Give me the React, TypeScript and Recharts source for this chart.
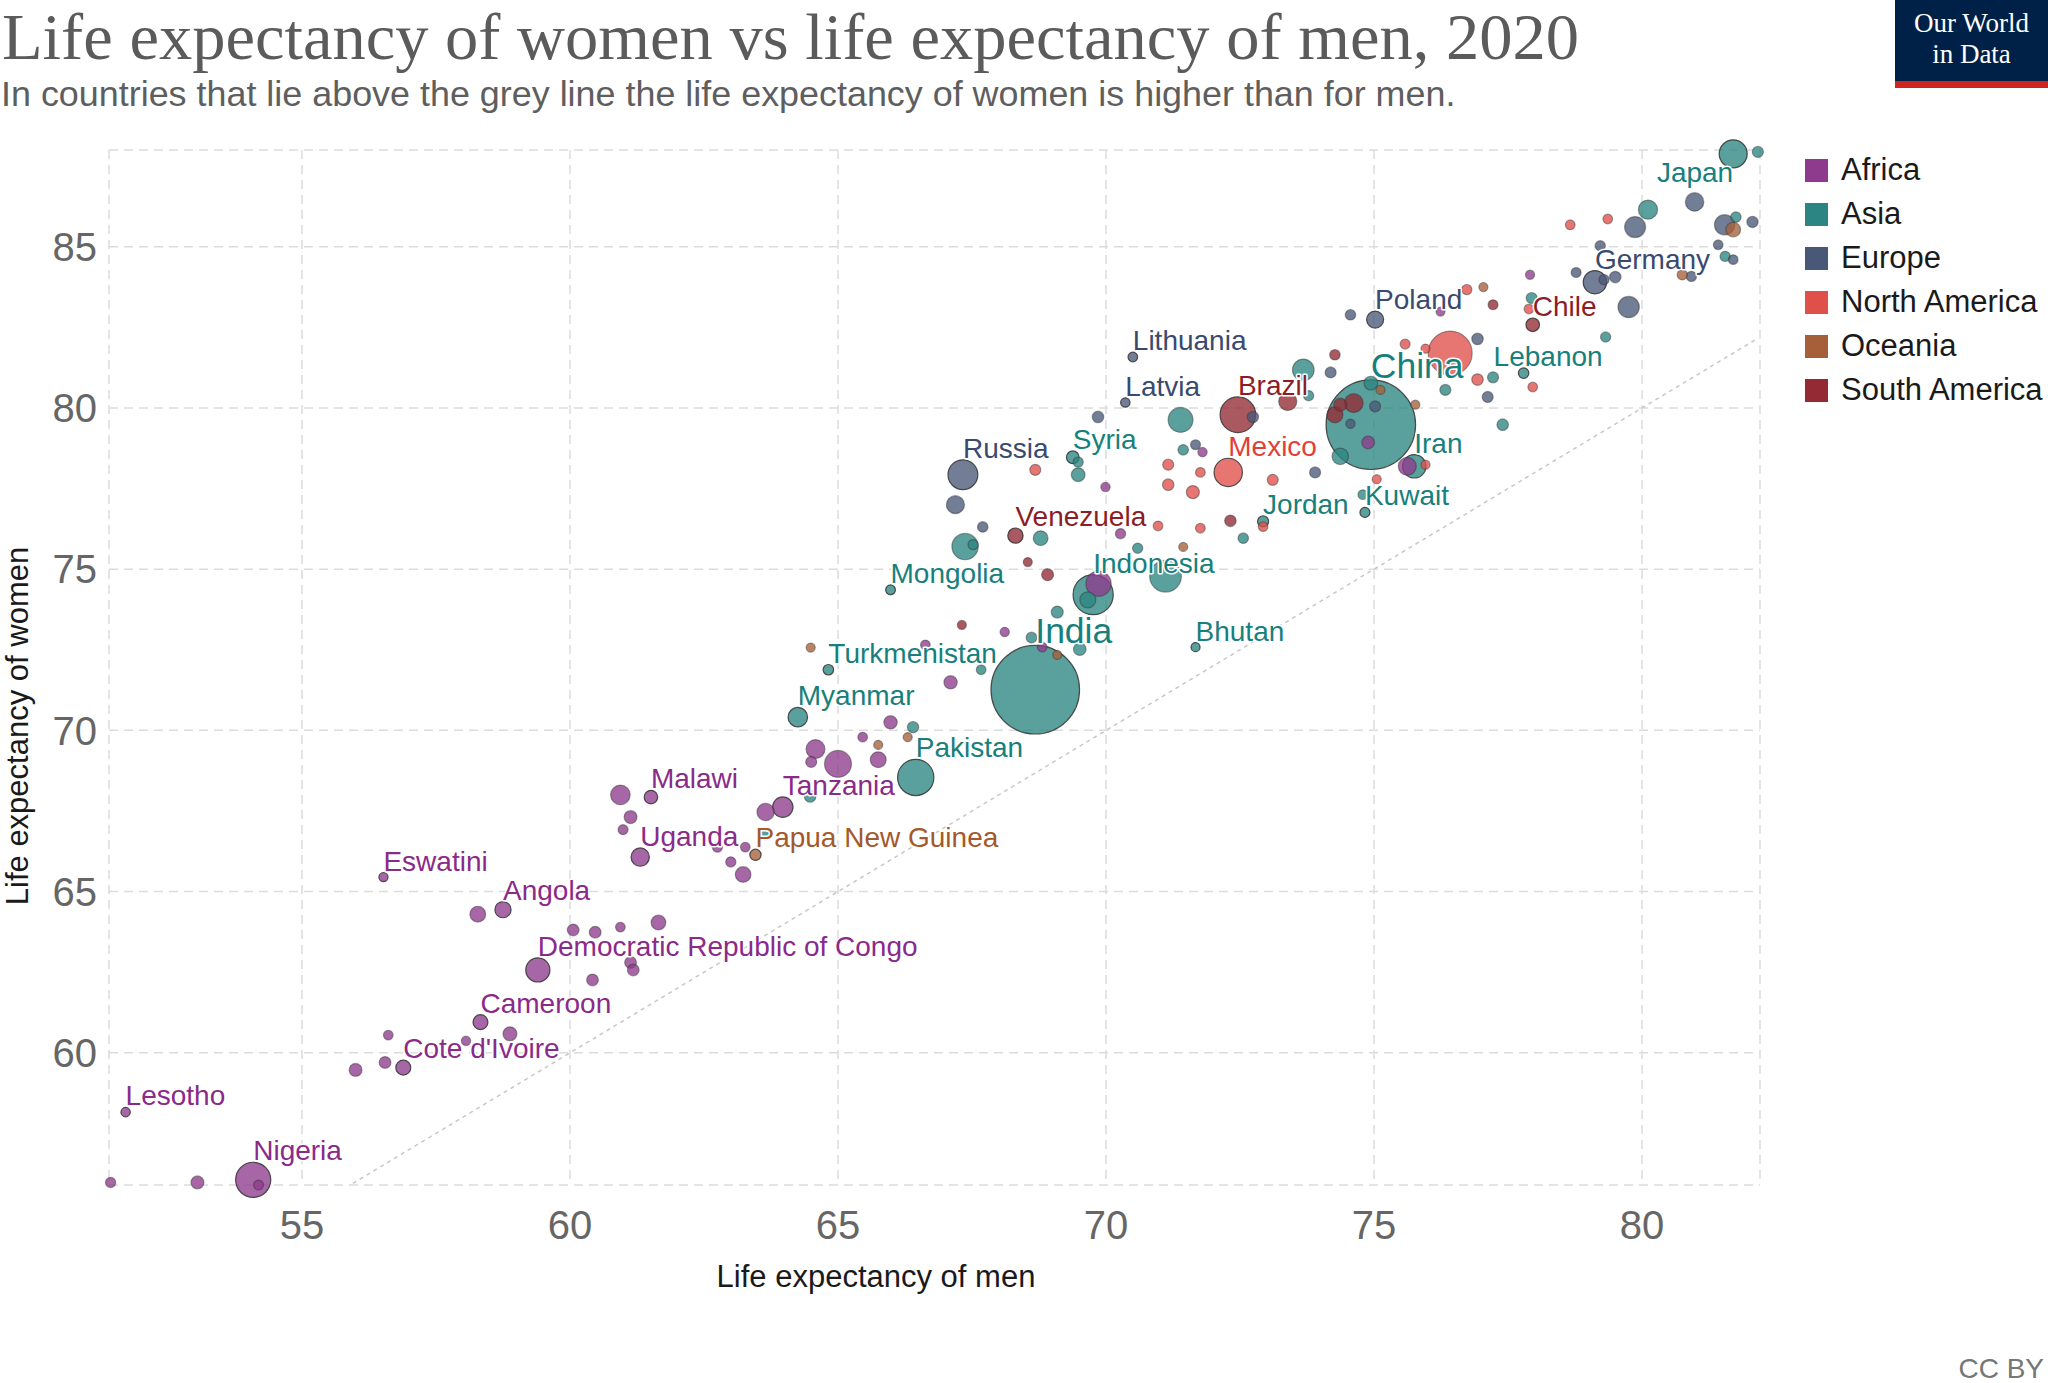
import React from "react"
import { ScatterChart, Scatter, XAxis, YAxis, ZAxis, CartesianGrid, ReferenceLine } from "recharts"

// country, life expectancy men, life expectancy women, population (millions)
type Row = [string, number, number, number]

const africa: Row[] = [
  ["Central African Republic", 51.43, 55.98, 5],
  ["Chad", 53.05, 55.98, 16],
  ["Nigeria", 54.09, 56.06, 206],
  ["", 54.19, 55.9, 4],
  ["Lesotho", 51.71, 58.16, 2],
  ["", 56.0, 59.47, 16],
  ["", 56.55, 59.7, 11],
  ["Cote d'Ivoire", 56.89, 59.54, 26],
  ["", 56.61, 60.55, 3],
  ["", 58.06, 60.37, 2],
  ["Cameroon", 58.33, 60.95, 26],
  ["", 58.88, 60.59, 21],
  ["Eswatini", 56.52, 65.45, 1.2],
  ["Mozambique", 58.28, 64.3, 31],
  ["Angola", 58.75, 64.44, 33],
  ["Democratic Republic of Congo", 59.4, 62.57, 90],
  ["", 60.06, 63.81, 11],
  ["", 60.47, 63.74, 11],
  ["", 60.94, 63.9, 3],
  ["", 61.65, 64.04, 25],
  ["", 60.42, 62.26, 11],
  ["", 61.13, 62.8, 11],
  ["", 61.18, 62.57, 11],
  ["", 60.94, 68.0, 55],
  ["Malawi", 61.51, 67.93, 19],
  ["", 61.13, 67.31, 16],
  ["", 60.99, 66.92, 4],
  ["Uganda", 61.31, 66.07, 46],
  ["", 62.75, 66.38, 5],
  ["", 63.27, 66.38, 3],
  ["", 63.0, 65.92, 5],
  ["", 63.23, 65.53, 30],
  ["Tanzania", 63.97, 67.62, 60],
  ["", 63.65, 67.47, 40],
  ["", 64.58, 69.42, 50],
  ["", 64.5, 69.02, 8],
  ["Ethiopia", 65.0, 68.96, 115],
  ["", 65.75, 69.09, 31],
  ["", 65.98, 70.25, 18],
  ["", 65.46, 69.79, 3],
  ["", 67.1, 71.49, 18],
  ["", 66.63, 72.65, 3],
  ["", 68.11, 73.05, 2],
  ["", 68.81, 72.58, 3],
  ["Egypt", 69.86, 74.55, 100],
  ["", 70.27, 76.1, 5],
  ["", 69.99, 77.55, 2],
  ["", 71.8, 78.63, 2],
  ["", 74.89, 78.93, 15],
  ["Algeria", 75.62, 78.19, 44],
  ["", 76.24, 82.99, 1],
  ["", 77.91, 84.13, 1.3],
]

const asia: Row[] = [
  ["Mongolia", 65.98, 74.36, 3.3],
  ["", 69.09, 73.67, 12],
  ["", 68.61, 72.88, 7],
  ["", 69.51, 72.52, 15],
  ["Turkmenistan", 64.82, 71.88, 6],
  ["", 67.67, 71.88, 3],
  ["India", 68.68, 71.26, 1380],
  ["Myanmar", 64.25, 70.41, 54],
  ["", 66.4, 70.1, 9],
  ["Pakistan", 66.45, 68.54, 220],
  ["", 64.48, 67.95, 10],
  ["", 63.65, 66.76, 3],
  ["Philippines", 67.37, 75.7, 110],
  ["", 67.52, 75.76, 5],
  ["Syria", 69.38, 78.47, 15],
  ["", 69.48, 78.32, 5],
  ["", 69.48, 77.93, 20],
  ["Vietnam", 71.39, 79.63, 97],
  ["", 71.44, 78.7, 6],
  ["", 68.78, 75.96, 25],
  ["", 72.56, 75.96, 6],
  ["Jordan", 72.93, 76.48, 8],
  ["", 70.59, 75.65, 5],
  ["Bangladesh", 71.11, 74.78, 165],
  ["Indonesia", 69.76, 74.21, 273],
  ["", 69.66, 74.05, 32],
  ["Bhutan", 71.67, 72.58, 0.8],
  ["Thailand", 73.68, 81.18, 70],
  ["", 73.78, 80.38, 5],
  ["China", 74.94, 79.48, 1411],
  ["", 74.94, 80.77, 20],
  ["", 74.37, 78.5, 35],
  ["Iran", 75.75, 78.19, 84],
  ["Kuwait", 74.83, 76.76, 4],
  ["", 74.79, 77.31, 3],
  ["", 77.22, 80.95, 8],
  ["Lebanon", 77.79, 81.08, 6],
  ["", 76.33, 80.56, 8],
  ["", 77.4, 79.48, 10],
  ["", 77.94, 83.41, 8],
  ["", 79.32, 82.2, 5],
  ["South Korea", 80.11, 86.15, 52],
  ["Japan", 81.7, 87.88, 126],
  ["Hong Kong", 82.16, 87.94, 8],
  ["Singapore", 81.75, 85.92, 6],
  ["", 81.55, 84.7, 5],
]

const europe: Row[] = [
  ["Russia", 67.33, 77.93, 144],
  ["Ukraine", 67.19, 77.0, 44],
  ["", 67.7, 76.31, 6],
  ["Latvia", 70.36, 80.17, 1.9],
  ["", 69.85, 79.72, 10],
  ["", 72.74, 79.72, 9],
  ["", 71.67, 78.86, 4],
  ["Lithuania", 70.5, 81.58, 2.8],
  ["", 74.19, 81.1, 8],
  ["", 74.56, 82.89, 6],
  ["Poland", 75.02, 82.74, 38],
  ["", 73.9, 78.0, 8],
  ["", 75.02, 80.05, 8],
  ["", 74.56, 79.51, 2],
  ["", 76.93, 82.14, 10],
  ["", 77.12, 80.34, 8],
  ["", 78.77, 84.2, 4],
  ["Germany", 79.12, 83.9, 83],
  ["", 79.29, 83.98, 5],
  ["", 79.5, 84.06, 10],
  ["United Kingdom", 79.75, 83.13, 67],
  ["Spain", 80.98, 86.39, 47],
  ["France", 79.87, 85.61, 65],
  ["Italy", 81.54, 85.68, 60],
  ["Switzerland", 82.06, 85.77, 9],
  ["", 81.42, 85.06, 3],
  ["", 79.22, 85.03, 5],
  ["", 81.7, 84.6, 3],
  ["", 80.92, 84.08, 5],
]

const northAmerica: Row[] = [
  ["", 68.68, 78.08, 8],
  ["", 71.16, 78.24, 8],
  ["", 71.76, 78.0, 3],
  ["Mexico", 72.28, 78.0, 129],
  ["", 71.16, 77.62, 10],
  ["Guatemala", 71.62, 77.39, 17],
  ["", 70.97, 76.34, 3],
  ["", 71.76, 76.27, 3],
  ["", 72.93, 76.32, 3],
  ["", 73.11, 77.77, 8],
  ["", 75.05, 77.79, 1],
  ["", 75.96, 78.24, 1],
  ["United States", 76.42, 81.7, 331],
  ["", 75.58, 81.98, 4],
  ["", 75.96, 81.84, 1],
  ["", 76.73, 83.67, 5],
  ["", 76.93, 80.88, 10],
  ["", 77.96, 80.65, 3],
  ["", 77.89, 83.07, 3],
  ["", 79.36, 85.86, 3],
  ["", 78.66, 85.68, 3],
]

const oceania: Row[] = [
  ["", 64.49, 72.57, 1],
  ["", 69.09, 72.34, 1],
  ["", 65.75, 69.55, 1],
  ["", 66.3, 69.79, 1],
  ["Papua New Guinea", 63.46, 66.14, 9],
  ["", 71.44, 75.69, 1],
  ["", 75.77, 80.1, 1],
  ["", 75.12, 80.56, 1],
  ["", 77.04, 83.75, 1],
  ["Australia", 81.7, 85.53, 25],
  ["New Zealand", 80.75, 84.13, 5],
]

const southAmerica: Row[] = [
  ["Guyana", 67.31, 73.27, 1],
  ["Venezuela", 68.31, 76.04, 28],
  ["", 72.32, 76.5, 10],
  ["", 68.54, 75.22, 1],
  ["Bolivia", 68.91, 74.83, 12],
  ["Brazil", 72.46, 79.79, 212],
  ["Argentina", 73.39, 80.2, 45],
  ["", 74.27, 81.65, 6],
  ["Colombia", 74.62, 80.15, 50],
  ["Ecuador", 74.37, 80.1, 17],
  ["Peru", 74.27, 79.79, 33],
  ["", 77.22, 83.2, 4],
  ["Chile", 77.96, 82.58, 19],
]

const continents = ["Africa", "Asia", "Europe", "North America", "Oceania", "South America"]
const xTicks = [55, 60, 65, 70, 75, 80]
const yTicks = [60, 65, 70, 75, 80, 85]

const labeled = [
  "Japan", "Germany", "Poland", "Chile", "Lithuania", "Lebanon", "China", "Latvia", "Brazil",
  "Russia", "Syria", "Mexico", "Iran", "Jordan", "Kuwait", "Venezuela", "Indonesia", "Mongolia",
  "India", "Bhutan", "Turkmenistan", "Myanmar", "Pakistan", "Malawi", "Tanzania", "Uganda",
  "Papua New Guinea", "Eswatini", "Angola", "Democratic Republic of Congo", "Cameroon",
  "Cote d'Ivoire", "Lesotho", "Nigeria",
]
const bigLabels = ["China", "India"]

const COLORS: Record<string, string> = {
  Africa: "#8e3b8d",
  Asia: "#2c8582",
  Europe: "#4a5878",
  "North America": "#e0504b",
  Oceania: "#a5603a",
  "South America": "#932a34",
}
const LABEL_COLORS: Record<string, string> = {
  Africa: "#8a2a89",
  Asia: "#17807c",
  Europe: "#3a4a6e",
  "North America": "#e23f3a",
  Oceania: "#a3592b",
  "South America": "#8c1c25",
}

const SANS = "'Liberation Sans', Arial, sans-serif"
const SERIF = "'Liberation Serif', 'Times New Roman', serif"

const points = [africa, asia, europe, northAmerica, oceania, southAmerica]
  .flatMap((rows, i) =>
    rows.map(([name, men, women, pop]) => ({ name, men, women, pop, continent: continents[i] }))
  )
  .sort((a, b) => b.pop - a.pop)

const labelPoints = points.filter((p) => labeled.includes(p.name))

const radius = (props: any) => {
  const area = props.size ?? 60 + props.payload.pop * 4.42
  return Math.sqrt(area / Math.PI)
}

const Bubble = (props: any) => {
  const { cx, cy, payload } = props
  if (cx == null || cy == null) return <g />
  const isLabeled = labeled.includes(payload.name)
  return (
    <circle
      cx={cx}
      cy={cy}
      r={radius(props)}
      fill={COLORS[payload.continent]}
      fillOpacity={0.78}
      stroke="#333"
      strokeOpacity={isLabeled ? 0.85 : 0.45}
      strokeWidth={1.2}
    />
  )
}

const PointLabel = (props: any) => {
  const { cx, cy, payload } = props
  if (cx == null || cy == null) return <g />
  const r = radius(props)
  const big = bigLabels.includes(payload.name)
  let x = cx
  let y = cy - r - 2
  let anchor = "start"
  // a couple of labels are moved to avoid collisions, as in the original
  if (payload.name === "Japan") {
    anchor = "end"
    y = cy + r + 14
  }
  if (payload.name === "Lebanon") x = cx - 30
  return (
    <text
      x={x}
      y={y}
      textAnchor={anchor}
      fontSize={big ? 35.5 : 28}
      fontFamily={SANS}
      fill={LABEL_COLORS[payload.continent]}
      stroke="#fff"
      strokeWidth={3}
      strokeLinejoin="round"
      paintOrder="stroke"
    >
      {payload.name}
    </text>
  )
}

export default function App() {
  const tick = { fill: "#666", fontSize: 40, fontFamily: SANS }
  return (
    <div style={{ position: "absolute", left: 0, top: 0, width: 2048, height: 1383, background: "#fff", overflow: "hidden" }}>
      <div style={{ position: "absolute", left: 0, top: 0 }}>
        <ScatterChart width={2048} height={1383} margin={{ top: 150, right: 288, bottom: 138, left: 0 }}>
          <CartesianGrid stroke="#dcdcdc" strokeDasharray="9 6" strokeWidth={1.5} />
          <XAxis
            type="number"
            dataKey="men"
            domain={[51.4, 82.2]}
            ticks={xTicks}
            interval={0}
            axisLine={false}
            tickLine={false}
            tickSize={0}
            tickMargin={26}
            height={60}
            tick={tick}
          />
          <YAxis
            type="number"
            dataKey="women"
            domain={[55.9, 88]}
            ticks={yTicks}
            interval={0}
            axisLine={false}
            tickLine={false}
            tickSize={0}
            tickMargin={12}
            width={109}
            tick={tick}
          />
          <ZAxis type="number" dataKey="pop" domain={[0, 1411]} range={[60, 6296]} />
          <ReferenceLine
            segment={[{ x: 55.95, y: 55.95 }, { x: 82.1, y: 82.1 }]}
            stroke="#c8c8c8"
            strokeWidth={1.5}
            strokeDasharray="4 4"
          />
          <Scatter data={points} shape={Bubble} isAnimationActive={false} />
          <Scatter data={labelPoints} shape={PointLabel} isAnimationActive={false} />
        </ScatterChart>
      </div>

      <div style={{ position: "absolute", left: 2, top: 0, fontFamily: SERIF, fontSize: 66.5, lineHeight: "74px", color: "#5b5b5b", whiteSpace: "nowrap" }}>
        Life expectancy of women vs life expectancy of men, 2020
      </div>
      <div style={{ position: "absolute", left: 1, top: 76, fontFamily: SANS, fontSize: 35.9, lineHeight: "36px", color: "#5e5e5e", whiteSpace: "nowrap" }}>
        In countries that lie above the grey line the life expectancy of women is higher than for men.
      </div>

      <div style={{ position: "absolute", left: 1895, top: 0, width: 153, height: 88, background: "#002147" }}>
        <div style={{ position: "absolute", left: 0, bottom: 0, width: 153, height: 7, background: "#ce261e" }} />
        <div style={{ position: "absolute", left: 0, top: 8, width: 153, textAlign: "center", color: "#fff", fontFamily: SERIF, fontSize: 27, lineHeight: "31px" }}>
          Our World
          <br />
          in Data
        </div>
      </div>

      {continents.map((c, i) => (
        <div key={c} style={{ position: "absolute", left: 1805, top: 170 + i * 44 - 15, height: 30, display: "flex", alignItems: "center" }}>
          <div style={{ width: 23, height: 23, background: COLORS[c], marginRight: 13 }} />
          <div style={{ fontFamily: SANS, fontSize: 31, lineHeight: "30px", color: "#1a1a1a", whiteSpace: "nowrap" }}>{c}</div>
        </div>
      ))}

      <div style={{ position: "absolute", left: 876 - 250, width: 500, top: 1277 - 17, textAlign: "center", fontFamily: SANS, fontSize: 31, lineHeight: "34px", color: "#1a1a1a" }}>
        Life expectancy of men
      </div>
      <div
        style={{
          position: "absolute",
          left: 18 - 250,
          top: 726 - 15,
          width: 500,
          textAlign: "center",
          fontFamily: SANS,
          fontSize: 31,
          lineHeight: "30px",
          color: "#1a1a1a",
          transform: "rotate(-90deg)",
        }}
      >
        Life expectancy of women
      </div>
      <div style={{ position: "absolute", right: 4, top: 1356, fontFamily: SANS, fontSize: 28, lineHeight: "26px", color: "#777" }}>
        CC BY
      </div>
    </div>
  )
}
